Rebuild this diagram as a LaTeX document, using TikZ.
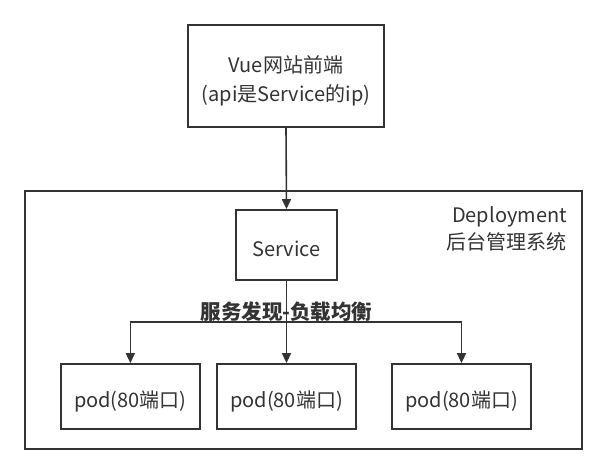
\documentclass[tikz,border=0pt]{standalone}
\usepackage{fontspec}
\setmainfont{Noto Sans CJK SC}
\usetikzlibrary{arrows.meta}
\definecolor{ink}{HTML}{333333}
\begin{document}
\begin{tikzpicture}[x=1pt,y=-1pt,
  box/.style={draw=ink,line width=1.8pt,fill=white,inner sep=0pt},
  txt/.style={text=ink,inner sep=0pt,font=\fontsize{20}{29}\selectfont,align=center},
  conn/.style={draw=ink,line width=1.6pt,-{Triangle[length=10pt,width=9pt]}},
  plain/.style={draw=ink,line width=1.6pt}]
\useasboundingbox[fill=white] (0,0) rectangle (607,474);
\node[draw=ink,line width=1.8pt,minimum width=557.3pt,minimum height=257.7pt,inner sep=0pt] (outer) at (303.35,319.85) {};
\node[box,minimum width=196pt,minimum height=102pt] (vue) at (286,76) {};
\node[txt] (vuet) at ([yshift=-5pt]vue.center) {Vue网站前端\\(api是Service的ip)};
\node[box,minimum width=101pt,minimum height=70pt] (svc) at (286.5,245) {};
\node[txt] (svct) at ([yshift=-3.5pt]svc.center) {Service};
\node[text=ink,anchor=east,align=right,inner sep=0pt,font=\fontsize{20}{27}\selectfont] (dep) at (567,229) {Deployment\\后台管理系统};
\node[box,minimum width=139.3pt,minimum height=65pt] (p1) at (130.35,396.5) {};
\node[box,minimum width=139pt,minimum height=65pt] (p2) at (286.5,396.5) {};
\node[box,minimum width=139pt,minimum height=65pt] (p3) at (461.5,396.5) {};
\node[txt] (p1t) at ([yshift=-4.5pt]p1.center) {pod(80端口)};
\node[txt] (p2t) at ([yshift=-4.5pt]p2.center) {pod(80端口)};
\node[txt] (p3t) at ([yshift=-4.5pt]p3.center) {pod(80端口)};
\node[text=ink,inner sep=0pt,font=\fontsize{20.5}{22}\selectfont\bfseries] (lbl) at (286.5,311.5) {服务发现-负载均衡};
\coordinate (jl) at (p1.north |- 0,322);
\coordinate (jr) at (p3.north |- 0,322);
\draw[conn] (vue.south) -- (svc.north);
\draw[conn] (svc.south) -- (p2.north);
\draw[plain] (jl) -- (jr);
\draw[conn] (jl) -- (p1.north);
\draw[conn] (jr) -- (p3.north);
\end{tikzpicture}
\end{document}
